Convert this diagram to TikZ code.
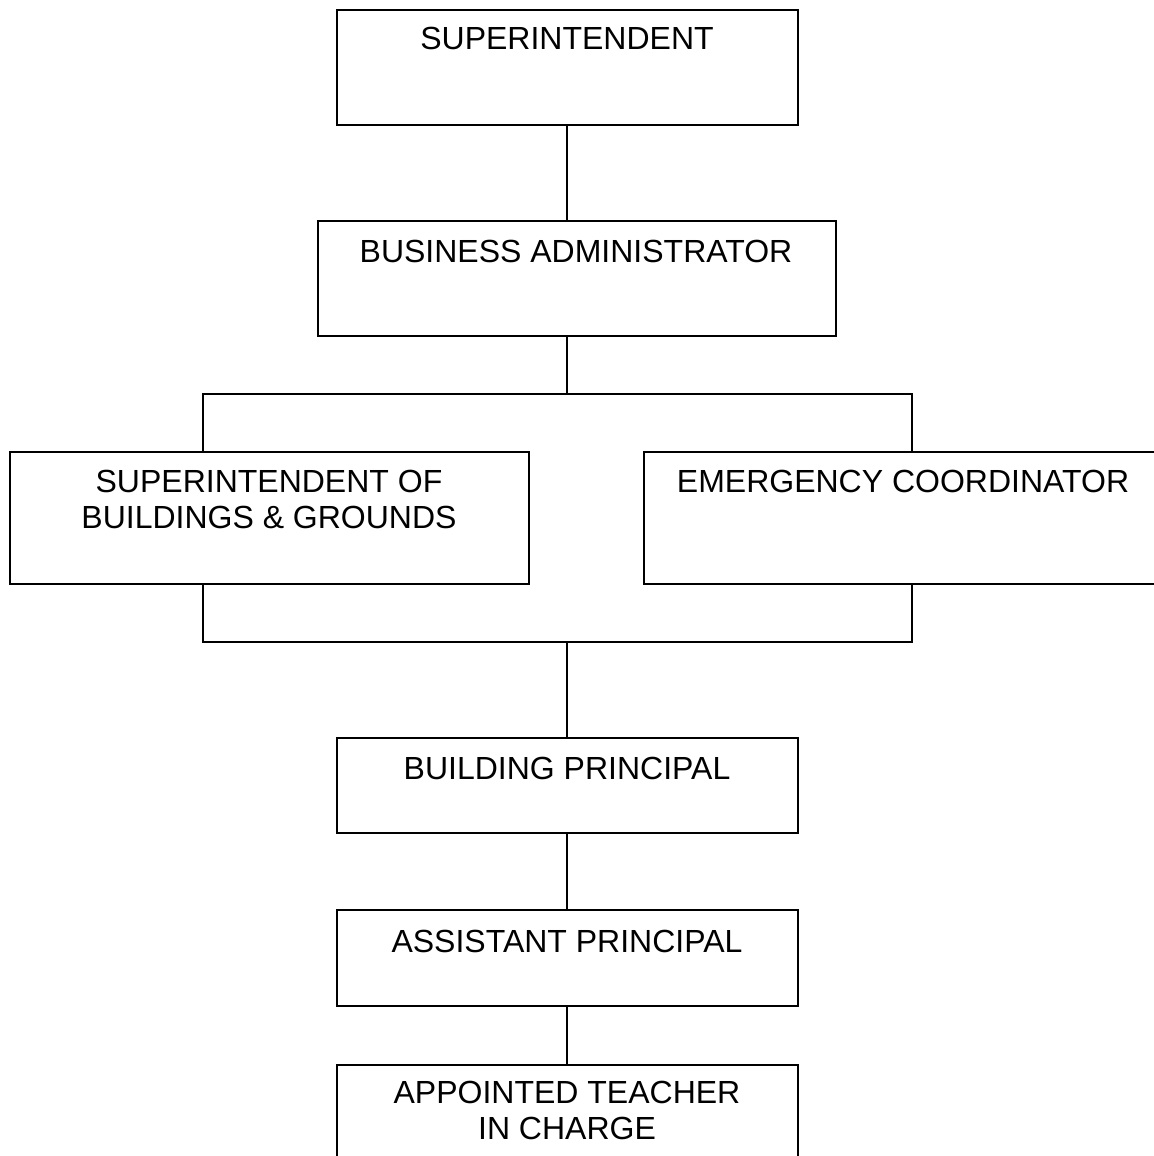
\documentclass[tikz,border=0pt]{standalone}
\usepackage{fontspec}
\setmainfont{Liberation Sans}
\begin{document}
\begin{tikzpicture}[x=0.5pt,y=-0.5pt,
  orgbox/.style={draw, line width=1.1pt, rectangle, inner sep=0pt, outer sep=0pt},
  orgtext/.style={inner sep=0pt, align=center, font=\fontsize{16pt}{18pt}\selectfont},
  link/.style={line width=1.1pt}]
\useasboundingbox (0,0) rectangle (1154,1156);
\clip (0,0) rectangle (1154,1156);
% boxes
\node[orgbox, minimum width=230.5pt, minimum height=57.5pt] (s) at (567.5,67.5) {};
\node[orgbox, minimum width=259pt, minimum height=57.5pt] (ba) at (577,278.5) {};
\node[orgbox, minimum width=259.5pt, minimum height=66pt] (sbg) at (269.5,518) {};
\node[orgbox, minimum width=259pt, minimum height=66pt] (ec) at (903,518) {};
\node[orgbox, minimum width=230.5pt, minimum height=47.5pt] (bp) at (567.5,785.5) {};
\node[orgbox, minimum width=230.5pt, minimum height=48pt] (ap) at (567.5,958) {};
\node[orgbox, minimum width=230.5pt, minimum height=60pt] (atic) at (567.5,1125) {};
% texts
\node[orgtext] (ts) at (567,38) {SUPERINTENDENT};
\node[orgtext] (tba) at (576,251) {BUSINESS ADMINISTRATOR};
\node[orgtext] (tsbg) at (269,499) {SUPERINTENDENT OF\\BUILDINGS \& GROUNDS};
\node[orgtext] (tec) at (903,481) {EMERGENCY COORDINATOR};
\node[orgtext] (tbp) at (567,768) {BUILDING PRINCIPAL};
\node[orgtext] (tap) at (567,941) {ASSISTANT PRINCIPAL};
\node[orgtext] (tatic) at (567,1110) {APPOINTED TEACHER\\IN CHARGE};
% junctions
\coordinate (j1) at (567,394);
\coordinate (jl) at (203,394);
\coordinate (jr) at (912,394);
\coordinate (j2) at (567,642);
\coordinate (kl) at (203,642);
\coordinate (kr) at (912,642);
% connectors
\draw[link] (j1 |- s.south) -- (j1 |- ba.north);
\draw[link] (j1 |- ba.south) -- (j1);
\draw[link] (jl |- sbg.north) -- (jl) -- (jr) -- (jr |- ec.north);
\draw[link] (kl |- sbg.south) -- (kl) -- (kr) -- (kr |- ec.south);
\draw[link] (j2) -- (j2 |- bp.north);
\draw[link] (j2 |- bp.south) -- (j2 |- ap.north);
\draw[link] (j2 |- ap.south) -- (j2 |- atic.north);
\end{tikzpicture}
\end{document}
